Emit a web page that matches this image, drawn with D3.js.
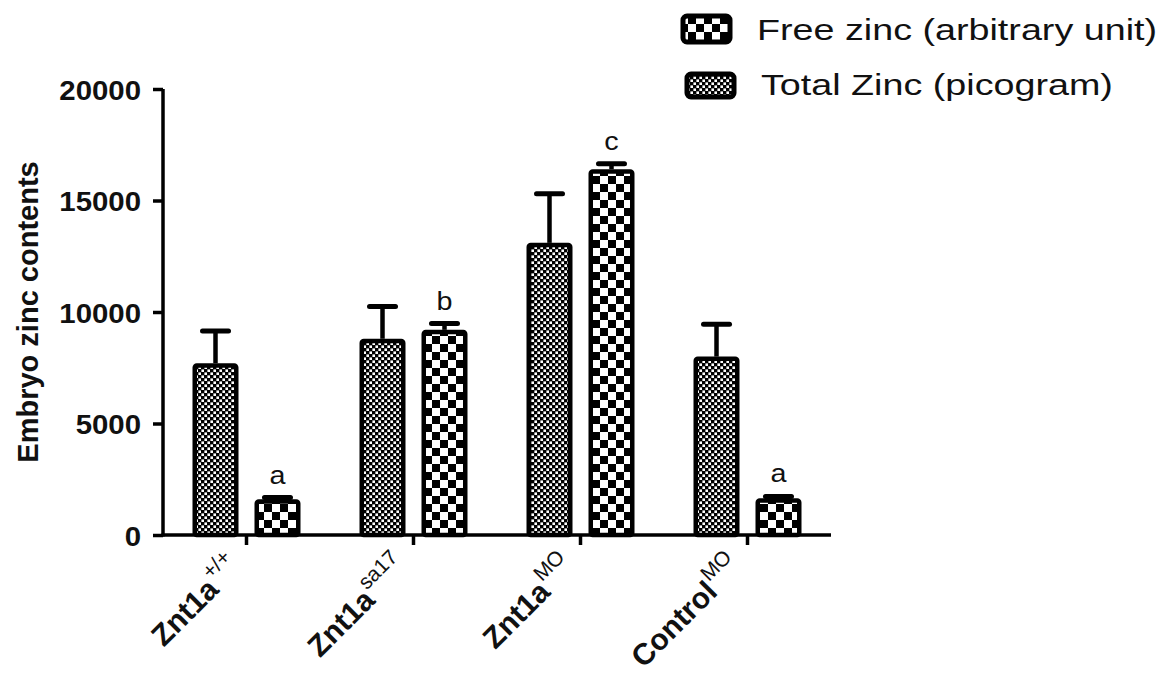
<!DOCTYPE html>
<html><head><meta charset="utf-8">
<script src="https://cdn.jsdelivr.net/npm/d3@7"></script>
<style>body{margin:0;background:#fff}svg{display:block}text{font-family:"Liberation Sans",Arial,sans-serif}</style>
</head><body>
<script>
const categories = ["Znt1a", "Znt1a", "Znt1a", "Control"];
const superscripts = ["+/+", "sa17", "MO", "MO"];
const seriesNames = ["Free zinc (arbitrary unit)", "Total Zinc (picogram)"];
const freeZinc = [7700, 8800, 13100, 8000];
const freeZincErr = [1450, 1450, 2200, 1450];
const totalZinc = [1600, 9200, 16400, 1650];
const totalZincErr = [80, 280, 250, 80];
const sigLetters = ["a", "b", "c", "a"];
const yTicks = [0, 5000, 10000, 15000, 20000];

const W = 1168, H = 693;
const svg = d3.select("body").append("svg").attr("width", W).attr("height", H);
const defs = svg.append("defs");
// fine checker
const pf = defs.append("pattern").attr("id","fine").attr("patternUnits","userSpaceOnUse").attr("width",6).attr("height",6);
pf.append("rect").attr("width",6).attr("height",6).attr("fill","#000");
pf.append("rect").attr("x",0.4).attr("y",0.4).attr("width",2.6).attr("height",2.6).attr("fill","#fff");
pf.append("rect").attr("x",3.4).attr("y",3.4).attr("width",2.6).attr("height",2.6).attr("fill","#fff");
// coarse checker
const pc = defs.append("pattern").attr("id","coarse").attr("patternUnits","userSpaceOnUse").attr("width",16).attr("height",16);
pc.append("rect").attr("width",16).attr("height",16).attr("fill","#fff");
pc.append("rect").attr("x",0).attr("y",0).attr("width",8).attr("height",8).attr("fill","#000");
pc.append("rect").attr("x",8).attr("y",8).attr("width",8).attr("height",8).attr("fill","#000");

const x0 = d3.scaleBand().domain(d3.range(categories.length)).range([163, 831]);
const x1 = d3.scaleBand().domain([0,1]).range([x0.bandwidth()/2 - 54, x0.bandwidth()/2 + 54]).paddingInner(0.258);
const y = d3.scaleLinear().domain([0, 20000]).range([535, 89]);

const series = [
  {vals: freeZinc, errs: freeZincErr, fill: "url(#fine)"},
  {vals: totalZinc, errs: totalZincErr, fill: "url(#coarse)"}
];
const SW = 4.5;
series.forEach((s, si) => {
  const g = svg.append("g");
  g.selectAll("line.err").data(s.vals).join("line")
    .attr("x1", (d,i) => x0(i) + x1(si) + x1.bandwidth()/2)
    .attr("x2", (d,i) => x0(i) + x1(si) + x1.bandwidth()/2)
    .attr("y1", d => y(d)).attr("y2", (d,i) => y(d + s.errs[i]))
    .attr("stroke","#000").attr("stroke-width",4.5);
  g.selectAll("line.cap").data(s.vals).join("line")
    .attr("x1", (d,i) => x0(i) + x1(si) + x1.bandwidth()/2 - 13)
    .attr("x2", (d,i) => x0(i) + x1(si) + x1.bandwidth()/2 + 13)
    .attr("y1", (d,i) => y(d + s.errs[i])).attr("y2", (d,i) => y(d + s.errs[i]))
    .attr("stroke","#000").attr("stroke-width",5).attr("stroke-linecap","round");
  g.selectAll("rect").data(s.vals).join("rect")
    .attr("x", (d,i) => x0(i) + x1(si) + SW/2)
    .attr("width", x1.bandwidth() - SW)
    .attr("y", d => y(d) + SW/2)
    .attr("height", d => y(0) - y(d) - SW/2)
    .attr("rx", 2)
    .attr("fill", s.fill).attr("stroke","#000").attr("stroke-width",SW);
});

// significance letters
svg.append("g").selectAll("text").data(sigLetters).join("text")
  .attr("transform", (d,i) => `translate(${x0(i) + x1(1) + x1.bandwidth()/2},${y(totalZinc[i] + totalZincErr[i]) - 14}) scale(1.15,1)`)
  .attr("text-anchor","middle").attr("font-size",25).attr("fill","#111").text(d => d);

// y axis
const yAxis = svg.append("g").attr("transform","translate(163,0)")
  .call(d3.axisLeft(y).tickValues(yTicks).tickSize(10).tickPadding(8).tickFormat(d3.format("d")));
yAxis.select(".domain").attr("stroke-width",3.5).attr("d", `M0,${y(20000)}V${y(0)+1.5}`);
yAxis.selectAll(".tick line").attr("stroke-width",3.5);
yAxis.selectAll(".tick text").attr("font-size",28).attr("font-weight","bold").attr("fill","#111")
  .attr("transform","scale(1.05,1)").attr("x", -22/1.05).attr("dy","0.36em");

// x axis
const xAxis = svg.append("g").attr("transform",`translate(0,${y(0)})`)
  .call(d3.axisBottom(x0).tickSize(10).tickFormat(""));
xAxis.select(".domain").attr("stroke-width",3.5).attr("d","M161.5,0H831");
xAxis.selectAll(".tick line").attr("stroke-width",3.5);

// x labels
const xl = svg.append("g").selectAll("text").data(categories).join("text")
  .attr("transform", (d,i) => `translate(${x0(i) + x0.bandwidth()/2 - 4},${y(0) + 34}) rotate(-45)`)
  .attr("text-anchor","end").attr("font-size",30).attr("font-weight","bold").attr("fill","#111");
xl.append("tspan").text(d => d);
xl.append("tspan").attr("dx",1).attr("dy",-15).attr("font-size",21).attr("font-weight","normal").text((d,i) => superscripts[i]);

// y title
svg.append("text").attr("transform","translate(38,312) rotate(-90)")
  .attr("text-anchor","middle").attr("font-size",29).attr("font-weight","bold").attr("fill","#111")
  .text("Embryo zinc contents");

// legend
const legendFills = ["url(#coarse)", "url(#fine)"];
const lg = svg.append("g").selectAll("g").data(seriesNames).join("g")
  .attr("transform", (d,i) => `translate(0,${i * 55})`);
lg.append("rect").attr("x", (d,i) => 683 + i*4).attr("y", (d,i) => 16 + i*3).attr("width",47).attr("height",(d,i)=> 26 - i*3).attr("rx",4)
  .attr("fill", (d,i) => legendFills[i]).attr("stroke","#000").attr("stroke-width",5);
lg.append("text").attr("transform", (d,i) => `translate(${757 + i*4},${40}) scale(1.3,1)`)
  .attr("font-size",29).attr("fill","#111").text(d => d);
</script>
</body></html>
